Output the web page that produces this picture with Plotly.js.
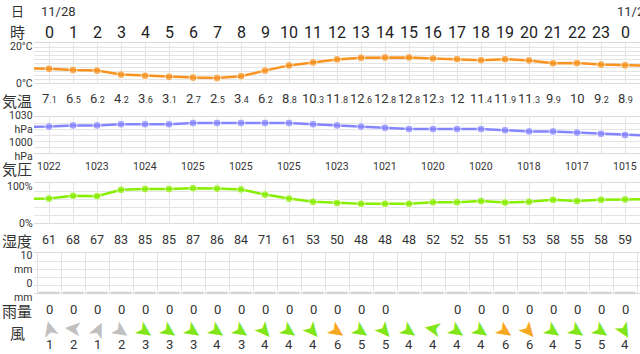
<!DOCTYPE html>
<html><head><meta charset="utf-8">
<script src="https://cdn.plot.ly/plotly-3.0.1.min.js"></script>
<style>html,body{margin:0;padding:0;background:#fff;overflow:hidden}#chart{width:640px;height:354px;}</style>
</head><body><div id="chart"></div>
<script>
const hours = [0,1,2,3,4,5,6,7,8,9,10,11,12,13,14,15,16,17,18,19,20,21,22,23,24];
const hourLabels = ['0','1','2','3','4','5','6','7','8','9','10','11','12','13','14','15','16','17','18','19','20','21','22','23','0'];
const dateHours = [0, 24];
const dateLabels = ['11/28', '11/29'];
const temp = [7.1,6.5,6.2,4.2,3.6,3.1,2.7,2.5,3.4,6.2,8.8,10.3,11.8,12.6,12.8,12.8,12.3,12,11.4,11.9,11.3,9.9,10,9.2,8.9];
const tempEdge = [7.3, 8.7];
const pressure = [1022,1023,1023,1024,1024,1024,1025,1025,1025,1025,1025,1024,1023,1022,1021,1020,1020,1020,1020,1019,1018,1018,1017,1016,1015];
const pressureEdge = [1021.8, 1014.5];
const humidity = [61,68,67,83,85,85,87,86,84,71,61,53,50,48,48,48,52,52,55,51,53,58,55,58,59];
const humidityEdge = [60, 60];
const rain = [0,0,0,0,0,0,0,0,0,0,0,0,0,0,0,0,0,0,0,0,0,0,0,0,0];
const rainLabels = ['0','0','0','0','0','0','0','0','0','0','0','0','0','0','0','','','0','0','0','0','0','0','0','0'];
const windSpeed = [1,2,1,2,3,3,3,4,3,4,4,4,6,5,5,4,4,4,4,6,6,4,5,5,4];
// direction the arrow tip points, degrees clockwise from north
const windDir = [345,275,25,125,125,125,125,125,125,140,125,140,125,125,140,125,280,125,125,125,140,125,125,125,150];

const W = 640, H = 354;
const px = p => p / W;
const py = p => 1 - p / H;
const FONT = "Roboto, 'Noto Sans CJK JP', sans-serif";
const JP = "'Noto Sans CJK JP', sans-serif";
const TXT = '#333';
const GRID = '#e4e4e4';
const XR = [-0.625, 24.625];

const ext = (vals, edge) => [edge[0]].concat(vals, [edge[1]]);
const extX = [-1].concat(hours, [25]);
const sizes = [0].concat(hours.map(() => 8), [0]);

const traces = [
  {x: extX, y: ext(temp, tempEdge), xaxis: 'x', yaxis: 'y', mode: 'lines+markers',
   line: {color: '#f7931e', width: 2.5}, marker: {color: '#f7931e', size: sizes}, hoverinfo: 'skip'},
  {x: extX, y: ext(pressure, pressureEdge), xaxis: 'x2', yaxis: 'y2', mode: 'lines+markers',
   line: {color: '#8585ff', width: 2.5}, marker: {color: '#8585ff', size: sizes}, hoverinfo: 'skip'},
  {x: extX, y: ext(humidity, humidityEdge), xaxis: 'x3', yaxis: 'y3', mode: 'lines+markers',
   line: {color: '#88ee00', width: 2.5}, marker: {color: '#88ee00', size: sizes}, hoverinfo: 'skip'},
  {x: hours, y: rain, xaxis: 'x4', yaxis: 'y4', mode: 'markers', cliponaxis: false,
   marker: {symbol: 'line-ew-open', size: 15, color: '#cccccc', line: {color: '#cccccc', width: 2.5}}, hoverinfo: 'skip'}
];

function xa(anchor, tick0, extra) {
  return Object.assign({domain: [px(34), 1], range: XR, anchor: anchor, showticklabels: false,
    showgrid: true, gridcolor: GRID, gridwidth: 1, tick0: tick0, dtick: 1, ticks: '', zeroline: false,
    fixedrange: true}, extra || {});
}
function ya(top, bottom, range, dtick) {
  return {domain: [py(bottom), py(top)], range: range, dtick: dtick, tick0: range[0], showticklabels: false,
    showgrid: true, gridcolor: GRID, gridwidth: 1, zeroline: false, ticks: '', fixedrange: true};
}

const lineOpts = {showline: true, mirror: true, linecolor: '#dcdcdc', linewidth: 1};
const layout = {
  width: W, height: H, margin: {l: 0, r: 0, t: 0, b: 0}, showlegend: false,
  paper_bgcolor: '#fff', plot_bgcolor: '#fff',
  xaxis: xa('y', 0, lineOpts),
  yaxis: ya(43, 83, [0, 20], 2),
  xaxis2: xa('y2', 0, lineOpts),
  yaxis2: ya(117, 153, [1000, 1030], 5),
  xaxis3: xa('y3', 0, lineOpts),
  yaxis3: ya(183, 223, [0, 100], 20),
  xaxis4: xa('y4', 0.5, lineOpts),
  yaxis4: ya(253, 293, [0, 10], 2),
  annotations: []
};

const ann = layout.annotations;
function rowText(xaxis, xs, texts, ycenter, size, color, family) {
  xs.forEach((x, i) => {
    if (texts[i] === '' || texts[i] === null) return;
    ann.push({xref: xaxis, yref: 'paper', x: x, y: py(ycenter), text: String(texts[i]), showarrow: false,
      xanchor: 'center', yanchor: 'middle', font: {family: family || FONT, size: size, color: color || TXT}});
  });
}
function leftLabel(text, xc, yc, size, anchor) {
  ann.push({xref: 'paper', yref: 'paper', x: px(xc), y: py(yc), text: text, showarrow: false,
    xanchor: anchor || 'center', yanchor: 'middle', borderpad: 0, font: {family: JP, size: size, color: TXT}});
}
function axisLabel(text, yc) {
  ann.push({xref: 'paper', yref: 'paper', x: px(34), y: py(yc), text: text, showarrow: false,
    xanchor: 'right', yanchor: 'middle', align: 'right', borderpad: 0,
    font: {family: FONT, size: 10.5, color: TXT}});
}

// header
leftLabel('日', 17, 11, 13);
leftLabel('時', 17, 31, 15);
dateHours.forEach((h, i) => ann.push({xref: 'x', yref: 'paper', x: h, y: py(11.5), xshift: -10,
  text: dateLabels[i], showarrow: false, xanchor: 'left', yanchor: 'middle',
  font: {family: FONT, size: 13, color: TXT}}));
rowText('x', hours, hourLabels, 32, 16, '#222');

// temperature
axisLabel('20°C', 46);
axisLabel('0°C', 83);
leftLabel('気温', 17, 100, 15);
rowText('x', hours, temp.map(v => {
  const s = String(v).split('.');
  return s.length > 1 ? s[0] + '<span style="font-size:9px">.' + s[1] + '</span>' : s[0];
}), 99, 13);

// pressure
axisLabel('1030<br>hPa', 122);
axisLabel('1000<br>hPa', 149.5);
leftLabel('気圧', 17, 168, 15);
rowText('x', hours, pressure.map((v, i) => i % 2 === 0 ? v : ''), 166, 10.5);

// humidity
axisLabel('100%', 186);
axisLabel('0%', 223);
leftLabel('湿度', 17, 240, 15);
rowText('x', hours, humidity, 239, 12.5);

// rain
axisLabel('10<br>mm', 262);
axisLabel('0<br>mm', 290);
leftLabel('雨量', 17, 310, 15);
rowText('x', hours, rainLabels, 309, 13);

// wind
leftLabel('風', 17, 332, 15);
hours.forEach((h, i) => {
  const s = windSpeed[i];
  ann.push({xref: 'x', yref: 'paper', x: h, y: py(330), text: '➤', showarrow: false,
    textangle: windDir[i] - 90, xanchor: 'center', yanchor: 'middle', borderpad: 0,
    font: {family: 'DejaVu Sans', size: 22, color: s >= 6 ? '#f7a823' : (s >= 3 ? '#80e61a' : '#c0c0c0')}});
});
rowText('x', hours, windSpeed, 344, 13);

Plotly.newPlot('chart', traces, layout, {staticPlot: true, displayModeBar: false});
</script></body></html>
